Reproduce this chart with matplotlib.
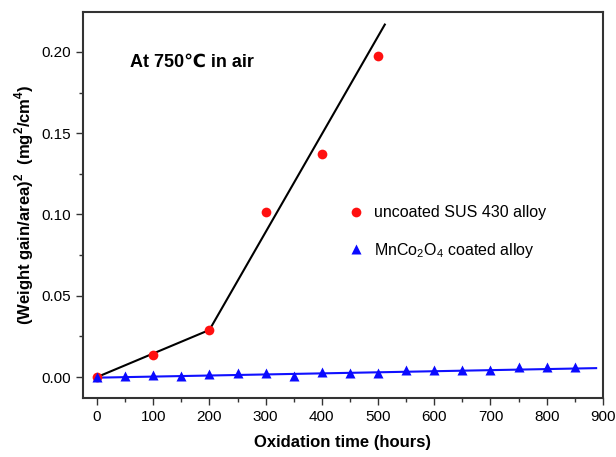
import matplotlib
matplotlib.use("Agg")
import matplotlib.pyplot as plt
from matplotlib.ticker import MultipleLocator

plt.rcParams['font.family'] = ['Liberation Sans', 'DejaVu Sans']
plt.rcParams['mathtext.fontset'] = 'custom'
plt.rcParams['mathtext.rm'] = 'Liberation Sans'
plt.rcParams['mathtext.bf'] = 'Liberation Sans:bold'

# uncoated SUS 430 alloy
uncoated_t = [0, 100, 200, 300, 400, 500]
uncoated_w = [0.0, 0.0137, 0.0289, 0.1015, 0.137, 0.1975]

# two-stage fitted line for uncoated alloy
fit_t = [0, 200, 512]
fit_w = [0.0, 0.029, 0.2168]

# MnCo2O4 coated alloy
coated_t = [0, 50, 100, 150, 200, 250, 300, 350, 400, 450, 500, 550, 600,
            650, 700, 750, 800, 850]
coated_w = [0.0, 0.0008, 0.0012, 0.0008, 0.0016, 0.0027, 0.0027, 0.0004,
            0.0029, 0.0025, 0.0023, 0.0043, 0.0043, 0.0043, 0.0043, 0.006,
            0.006, 0.006]

# linear fit for coated alloy
coated_fit_t = [-5, 888]
coated_fit_w = [-0.0004, 0.0055]

fig = plt.figure(figsize=(6.16, 4.57), dpi=100)
ax = fig.add_axes([0.1347, 0.129, 0.844, 0.845])

ax.plot(coated_fit_t, coated_fit_w, color='#1010ff', lw=1.5, zorder=2)
ax.plot(fit_t, fit_w, color='black', lw=1.5, zorder=3)
ax.plot(uncoated_t, uncoated_w, 'o', color='#ff1010', ms=7, mec='none',
        zorder=4, label='uncoated SUS 430 alloy')
ax.plot(coated_t, coated_w, '^', color='#0a0aff', ms=7.5, mec='none',
        zorder=4, label='MnCo$_2$O$_4$ coated alloy')

ax.set_xlim(-25, 900)
ax.set_ylim(-0.0129, 0.2246)
ax.xaxis.set_major_locator(MultipleLocator(100))
ax.xaxis.set_minor_locator(MultipleLocator(50))
ax.yaxis.set_major_locator(MultipleLocator(0.05))
ax.yaxis.set_minor_locator(MultipleLocator(0.025))
ax.yaxis.set_major_formatter(plt.FormatStrFormatter('%.2f'))
ax.tick_params(which='major', direction='out', length=5, width=1,
               labelsize=11, colors='#333333', labelcolor='black')
ax.tick_params(which='minor', direction='out', length=3, width=1,
               colors='#333333')
for s in ax.spines.values():
    s.set_linewidth(1.5)
    s.set_color('#333333')

ax.set_xlabel('Oxidation time (hours)', fontsize=12, fontweight='bold',
              labelpad=8)
ax.set_ylabel('(Weight gain/area)$^\\mathbf{2}$  (mg$^\\mathbf{2}$/cm$^\\mathbf{4}$)',
              fontsize=12, fontweight='bold', labelpad=4)

ax.text(0.09, 0.87, 'At 750\u2103 in air', transform=ax.transAxes,
        fontsize=13, fontweight='bold', va='center')

ax.legend(loc='upper left', bbox_to_anchor=(0.495, 0.52), frameon=False,
          fontsize=11.5, handlelength=1.0, handletextpad=0.6,
          labelspacing=1.3, borderpad=0)

fig.savefig('out.png', dpi=100)
